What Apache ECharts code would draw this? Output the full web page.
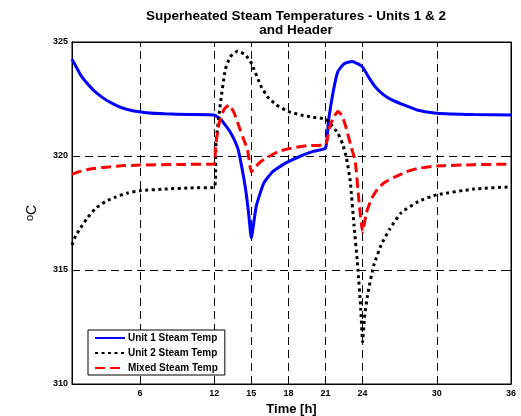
<!DOCTYPE html>
<html>
<head>
<meta charset="utf-8">
<script src="https://cdn.jsdelivr.net/npm/echarts@6/dist/echarts.min.js"></script>
<style>html,body{margin:0;padding:0;background:#fff;}#c{width:521px;height:416px;}</style>
</head>
<body>
<div id="c"></div>
<script>
var titleText = 'Superheated Steam Temperatures - Units 1 & 2\nand Header';
var xTicks = [6, 12, 15, 18, 21, 24, 30, 36];
var xGrid = [6, 12, 15, 18, 21, 24, 30];
var yTicks = [310, 315, 320, 325];

var unit1Time = [0.5, 0.8, 1.2, 1.7, 2.25, 3, 3.6, 4.5, 5.5, 6.5, 8, 10, 12, 12.55, 13.35, 13.9, 14.2, 14.55, 14.8, 15.0, 15.4, 16, 16.7, 17.5, 18, 19, 20, 21, 21.25, 21.65, 22.0, 22.5, 23.15, 23.6, 24.0, 24.5, 25, 25.7, 26.4, 27.1, 28.4, 30, 33, 36];
var unit1Temp = [324.25, 323.95, 323.55, 323.2, 322.88, 322.55, 322.35, 322.12, 321.97, 321.9, 321.85, 321.82, 321.8, 321.6, 321.0, 320.35, 319.6, 318.5, 317.4, 316.4, 317.8, 318.8, 319.3, 319.6, 319.75, 320.0, 320.2, 320.35, 321.58, 322.9, 323.7, 324.05, 324.15, 324.05, 323.9, 323.45, 323.05, 322.68, 322.45, 322.29, 322.02, 321.88, 321.82, 321.8];

var unit2Time = [0.5, 0.8, 1.2, 1.7, 2.4, 3.2, 4, 5, 6, 8, 10, 12, 12.1, 12.15, 12.5, 12.9, 13.3, 13.9, 14.5, 15, 15.75, 16.3, 17, 18, 19, 20, 21, 21.5, 22, 22.4, 22.7, 23.0, 23.3, 23.6, 23.85, 24.0, 24.15, 24.4, 24.9, 25.5, 26.2, 27.1, 28.5, 30, 33, 36];
var unit2Temp = [316.1, 316.5, 316.85, 317.25, 317.7, 318.0, 318.2, 318.38, 318.48, 318.55, 318.6, 318.62, 319.0, 320.57, 322.3, 323.8, 324.35, 324.6, 324.45, 324.08, 323.1, 322.6, 322.25, 321.95, 321.8, 321.7, 321.62, 321.35, 321.0, 320.5, 319.9, 318.9, 317.0, 315.2, 313.3, 311.85, 312.9, 313.9, 315.2, 316.1, 316.8, 317.5, 318.0, 318.3, 318.55, 318.65];

var mixedTime = [0.5, 1, 1.5, 2.2, 3, 4.5, 6, 9, 12, 12.1, 12.4, 12.8, 13.2, 13.6, 14.0, 14.4, 14.7, 15.0, 15.3, 15.75, 16.5, 17.2, 18, 19.5, 21, 21.3, 21.6, 22.0, 22.3, 22.6, 23.15, 23.4, 23.7, 24.0, 24.3, 24.7, 25.2, 25.8, 26.5, 27.5, 28.4, 30, 33, 36];
var mixedTemp = [319.2, 319.3, 319.37, 319.45, 319.5, 319.57, 319.6, 319.63, 319.65, 320.4, 321.44, 322.05, 322.24, 321.9, 321.3, 320.7, 320.26, 319.3, 319.5, 319.75, 320.0, 320.2, 320.32, 320.45, 320.5, 321.2, 321.65, 321.95, 321.8, 321.36, 320.26, 319.8, 318.06, 316.67, 317.5, 318.1, 318.55, 318.85, 319.05, 319.3, 319.45, 319.56, 319.62, 319.64];

function pairs(t, v) { return t.map(function (x, i) { return [x, v[i]]; }); }

var chart = echarts.init(document.getElementById('c'), null, {renderer: 'canvas'});
var ff = '"Liberation Sans", Arial, sans-serif';
chart.setOption({
  animation: false,
  backgroundColor: '#fff',
  title: {
    text: titleText, left: 291, top: 4, textAlign: 'center',
    textStyle: {fontFamily: ff, fontSize: 13.5, fontWeight: 'bold', color: '#000', lineHeight: 14}
  },
  grid: {left: 72, right: 10, top: 42, bottom: 32, containLabel: false, outerBoundsMode: 'none',
    show: true, borderColor: '#000', borderWidth: 1, backgroundColor: 'transparent'},
  legend: {
    orient: 'vertical', left: 88, top: 330, z: 20, itemWidth: 30, itemHeight: 8, itemGap: 5,
    borderColor: '#000', borderWidth: 1, padding: [3, 7, 2, 6], backgroundColor: '#fff',
    itemStyle: {opacity: 0},
    textStyle: {fontFamily: ff, fontSize: 10, fontWeight: 'bold', color: '#000', padding: [0, 0, 0, -2]},
    data: ['Unit 1 Steam Temp', 'Unit 2 Steam Temp', 'Mixed Steam Temp']
  },
  xAxis: [{
    type: 'value', min: 0.5, max: 36, position: 'bottom',
    name: 'Time [h]', nameLocation: 'middle', nameGap: 19, nameMoveOverlap: false,
    nameTextStyle: {fontFamily: ff, fontSize: 13, fontWeight: 'bold', color: '#000'},
    axisLine: {lineStyle: {color: '#000', width: 1}},
    axisTick: {show: true, inside: true, length: 5, customValues: xTicks, lineStyle: {color: '#000'}},
    axisLabel: {customValues: xTicks, fontFamily: ff, fontSize: 9, fontWeight: 'bold', color: '#000', margin: 5},
    splitLine: {show: false}
  }, {
    type: 'value', min: 0.5, max: 36, position: 'top',
    axisLine: {lineStyle: {color: '#000', width: 1}},
    axisTick: {show: true, inside: true, length: 5, customValues: xTicks, lineStyle: {color: '#000'}},
    axisLabel: {show: false}, splitLine: {show: false}
  }],
  yAxis: [{
    type: 'value', min: 310, max: 325, interval: 5, position: 'left',
    name: '{s|o}C', nameLocation: 'middle', nameGap: 32, nameRotate: 90, nameMoveOverlap: false,
    nameTextStyle: {fontFamily: ff, fontSize: 14, color: '#000', rich: {s: {fontFamily: ff, fontSize: 11, color: '#000', verticalAlign: 'top', padding: [0, 0, 5, 0]}}},
    axisLine: {show: true, lineStyle: {color: '#000', width: 1}},
    axisTick: {show: true, inside: true, length: 5, lineStyle: {color: '#000'}},
    axisLabel: {fontFamily: ff, fontSize: 9, fontWeight: 'bold', color: '#000', margin: 4, customValues: yTicks},
    splitLine: {show: true, lineStyle: {color: '#000', width: 1, type: [8, 5]}}
  }, {
    type: 'value', min: 310, max: 325, interval: 5, position: 'right',
    axisLine: {show: true, lineStyle: {color: '#000', width: 1}},
    axisTick: {show: true, inside: true, length: 5, lineStyle: {color: '#000'}},
    axisLabel: {show: false}, splitLine: {show: false}
  }],
  series: [{
    type: 'line', name: 'grid', data: [], z: 1, silent: true,
    markLine: {
      silent: true, symbol: ['none', 'none'], animation: false, z: 1,
      label: {show: false},
      lineStyle: {color: '#000', width: 1, type: [8, 5]},
      data: xGrid.map(function (v) { return {xAxis: v}; })
    }
  }, {
    type: 'line', name: 'Unit 1 Steam Temp', data: pairs(unit1Time, unit1Temp),
    symbol: 'none', smooth: 0.15, z: 3,
    lineStyle: {color: '#0000ff', width: 3, type: 'solid'}, itemStyle: {color: '#0000ff'}
  }, {
    type: 'line', name: 'Unit 2 Steam Temp', data: pairs(unit2Time, unit2Temp),
    symbol: 'none', smooth: 0.15, z: 4,
    lineStyle: {color: '#000000', width: 3, type: [3, 3.5]}, itemStyle: {color: '#000000'}
  }, {
    type: 'line', name: 'Mixed Steam Temp', data: pairs(mixedTime, mixedTemp),
    symbol: 'none', smooth: 0.15, z: 5,
    lineStyle: {color: '#ff0000', width: 3, type: [10, 5]}, itemStyle: {color: '#ff0000'}
  }]
});
</script>
</body>
</html>
